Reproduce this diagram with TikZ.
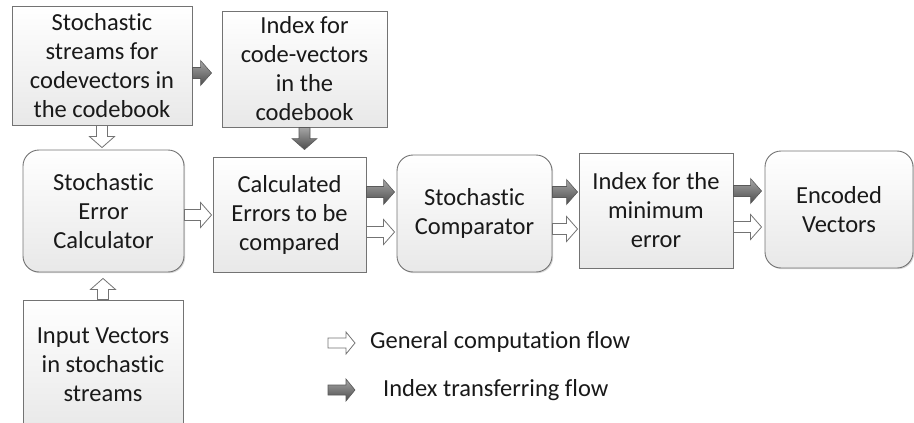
\documentclass[tikz,border=0pt]{standalone}
\usepackage{fontspec}
\setmainfont{Carlito}[Ligatures=NoCommon]
\usetikzlibrary{calc,shadows}

% block-arrow sizes: half shaft width, half head width, head length (pt)
\def\fs{5.5}
\def\fh{12.5}
\def\fl{11}

% \flowarrow[end gap]{style}{from}{to}: a filled block arrow along a straight line
\newcommand\flowarrow[4][0]{%
  \path[#2] let \p1=(#3), \p2=(#4),
      \n1={veclen(\x2-\x1,\y2-\y1)},
      \n2={(\x2-\x1)/\n1}, \n3={(\y2-\y1)/\n1},
      \n4={\n1-#1}, \n5={\n4-\fl}
    in ({\x1-\fs*\n3},{\y1+\fs*\n2})
    -- ({\x1+\n5*\n2-\fs*\n3},{\y1+\n5*\n3+\fs*\n2})
    -- ({\x1+\n5*\n2-\fh*\n3},{\y1+\n5*\n3+\fh*\n2})
    -- ({\x1+\n4*\n2},{\y1+\n4*\n3})
    -- ({\x1+\n5*\n2+\fh*\n3},{\y1+\n5*\n3-\fh*\n2})
    -- ({\x1+\n5*\n2+\fs*\n3},{\y1+\n5*\n3-\fs*\n2})
    -- ({\x1+\fs*\n3},{\y1-\fs*\n2}) -- cycle;%
}

\tikzset{
  block/.style={draw=black!55, line width=0.9pt, top color=white, bottom color=black!9,
    inner sep=0pt, align=center, text=black!90,
    drop shadow={shadow xshift=1.2pt, shadow yshift=-1.2pt, opacity=0.25, fill=black!60}},
  roundblock/.style={block, rounded corners=16pt},
  genflow/.style={fill=white, draw=black!55, line width=0.8pt},
  idxflow/.style={top color=black!35, bottom color=black!70, draw=black!65, line width=0.6pt},
  legendtext/.style={anchor=west, inner sep=0pt, text=black!90}
}

\begin{document}
\begin{tikzpicture}[x=1pt, y=-1pt, font=\fontsize{24.5}{29}\selectfont]
\useasboundingbox (0,0) rectangle (914,423);

% process blocks
\node[block, minimum width=180pt, minimum height=119pt] (streams) at (102,65.5)
  {Stochastic\\streams for\\codevectors in\\the codebook};
\node[block, minimum width=165pt, minimum height=116pt] (index) at (304.5,69)
  {Index for\\code-vectors\\in the\\codebook};
\node[roundblock, minimum width=161pt, minimum height=122pt] (calc) at (103.5,211)
  {Stochastic\\Error\\Calculator};
\node[block, minimum width=153pt, minimum height=115pt] (errors) at (289.5,214.5)
  {Calculated\\Errors to be\\compared};
\node[roundblock, minimum width=155pt, minimum height=117pt] (comp) at (474.5,213.5)
  {Stochastic\\Comparator};
\node[block, minimum width=154pt, minimum height=115pt] (minidx) at (656,210.5)
  {Index for the\\minimum\\error};
\node[roundblock, minimum width=148pt, minimum height=117pt] (encoded) at (839,209.5)
  {Encoded\\Vectors};
\node[block, minimum width=160pt, minimum height=130pt] (input) at (103,365)
  {Input Vectors\\in stochastic\\streams};

% flows between blocks
\flowarrow[10]{idxflow}{streams.east |- 0,73}{index.west |- 0,73}
\flowarrow[2]{genflow}{streams.south}{streams.south |- calc.north}
\flowarrow[7]{idxflow}{index.south}{index.south |- errors.north}
\flowarrow[6]{genflow}{input.north}{input.north |- calc.south}
\flowarrow[1]{genflow}{calc.east |- 0,215}{errors.west |- 0,215}
\flowarrow[2]{idxflow}{errors.east |- 0,192}{comp.west |- 0,192}
\flowarrow[2]{genflow}{errors.east |- 0,232}{comp.west |- 0,232}
\flowarrow[1]{idxflow}{comp.east |- 0,192}{minidx.west |- 0,192}
\flowarrow[1]{genflow}{comp.east |- 0,229}{minidx.west |- 0,229}
\flowarrow[3]{idxflow}{minidx.east |- 0,191}{encoded.west |- 0,191}
\flowarrow[3]{genflow}{minidx.east |- 0,227}{encoded.west |- 0,227}

% legend
\node[legendtext] (lgen) at (370,342) {General computation flow};
\node[legendtext] (lidx) at (383,390) {Index transferring flow};
\coordinate (lgenA) at (328,343);
\coordinate (lgenB) at (355,343);
\coordinate (lidxA) at (328,390);
\coordinate (lidxB) at (355,390);
\def\fs{5}\def\fh{11}\def\fl{9}
\flowarrow{genflow}{lgenA}{lgenB}
\flowarrow{idxflow}{lidxA}{lidxB}
\end{tikzpicture}
\end{document}
